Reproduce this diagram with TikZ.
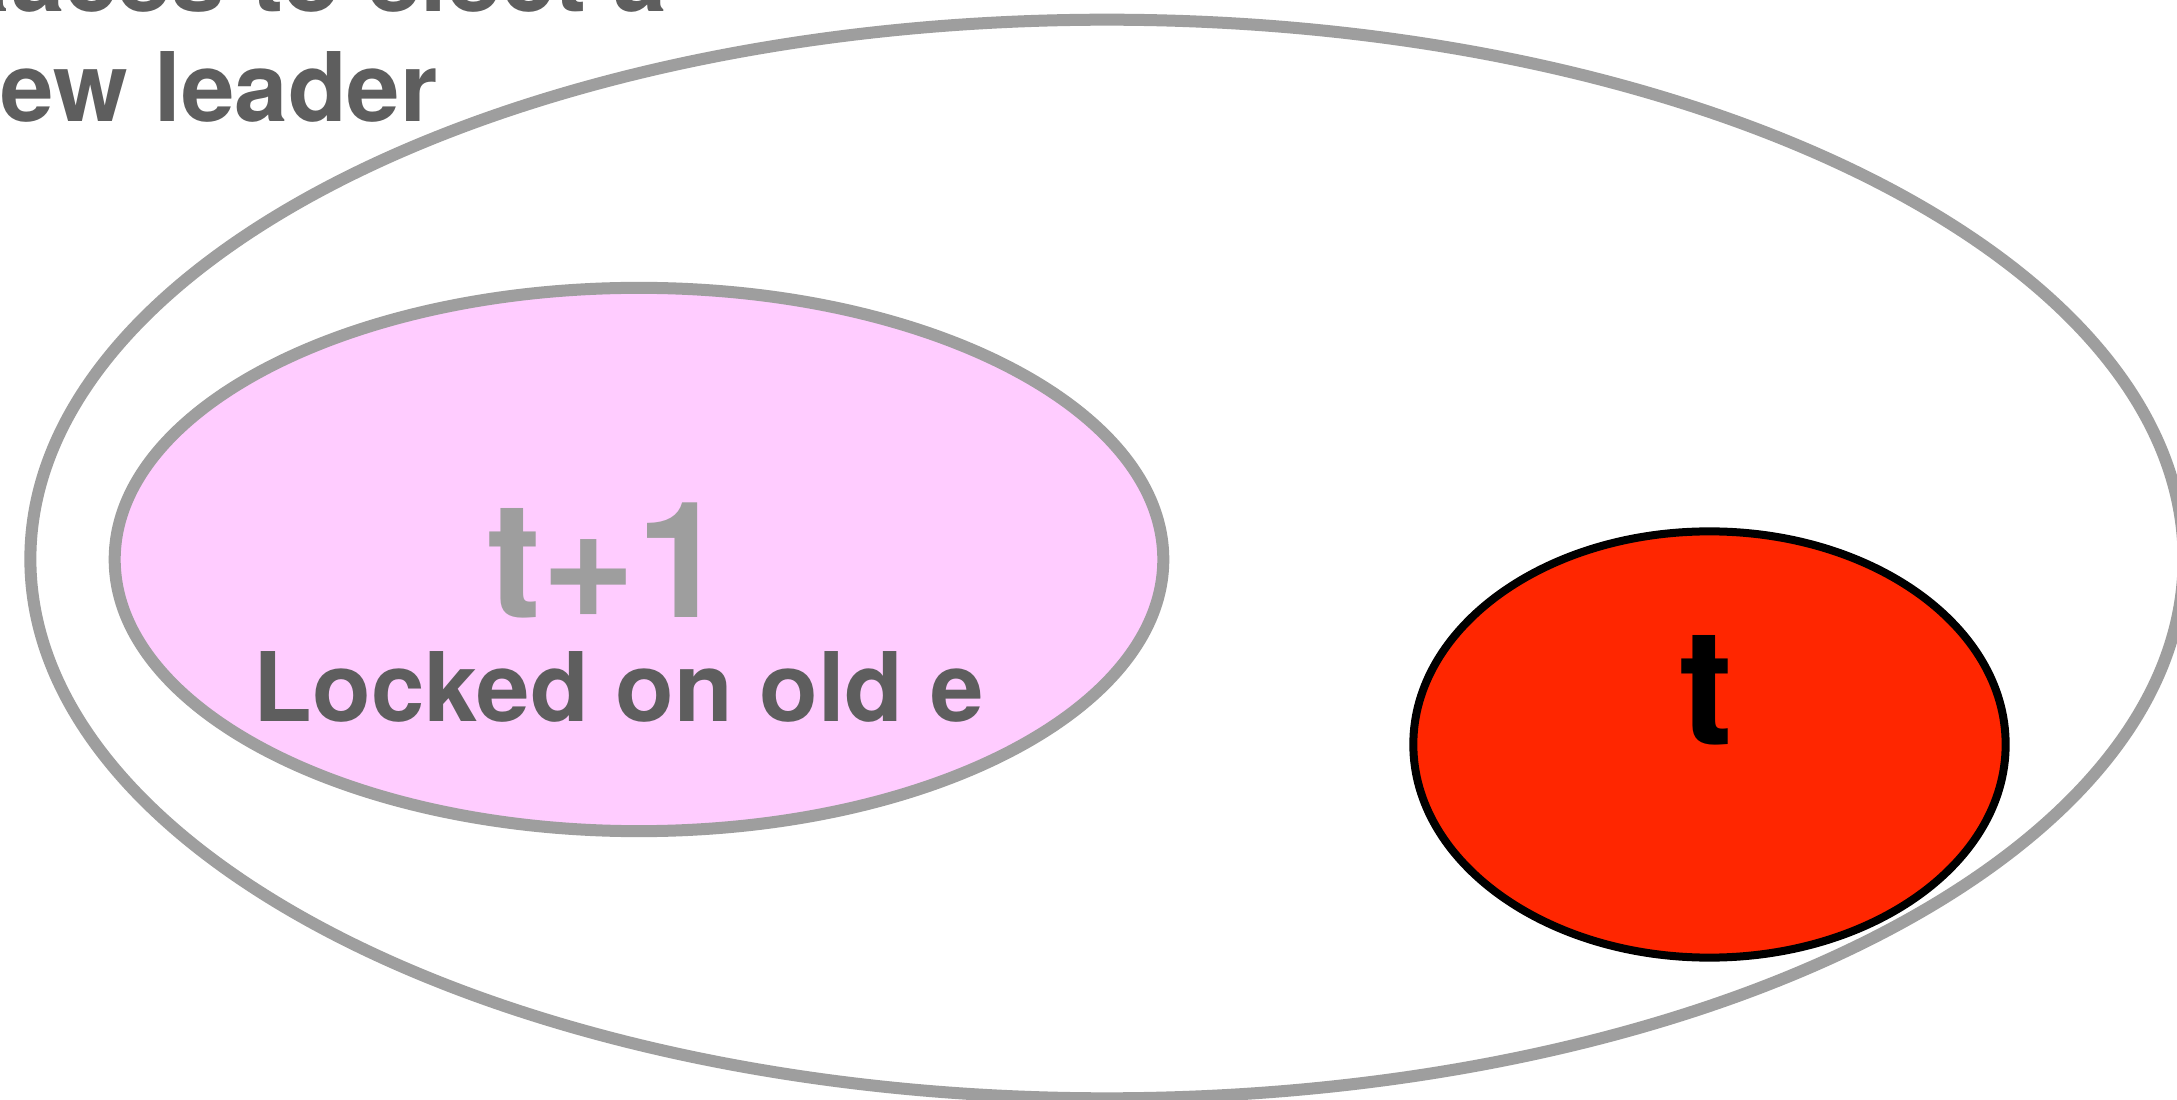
\documentclass[tikz,border=0pt]{standalone}
\usepackage{fontspec}
\setmainfont{TeX Gyre Heros}
\usetikzlibrary{shapes.geometric}
\definecolor{ringgray}{HTML}{9E9E9E}
\definecolor{labelgray}{HTML}{5E5E5E}
\definecolor{lockpink}{HTML}{FFCCFF}
\definecolor{termred}{HTML}{FF2600}
\tikzset{
  ring/.style={ellipse, draw=ringgray, line width=0.12cm, inner sep=0pt},
  bigtext/.style={font=\fontsize{46pt}{50pt}\selectfont\bfseries, inner sep=0pt},
  smalltext/.style={font=\fontsize{27.3pt}{31pt}\selectfont\bfseries, text=labelgray, inner sep=0pt},
}
\begin{document}
\begin{tikzpicture}[x=0.01cm, y=0.01cm]
\useasboundingbox (0,0) rectangle (2177,1099);
\clip (0,0) rectangle (2177,1099);
\fill[white] (0,0) rectangle (2177,1099);

% heading, running off the top-left corner
\node[smalltext, anchor=base west] (head1) at (-59,1087) {Races to elect a};
\node[smalltext, anchor=base west] (head2) at (-59,977) {new leader};

% the whole cluster
\node[ring, minimum width=21.52cm, minimum height=10.78cm] (cluster) at (1107,540) {};

% servers locked on the old term
\node[ring, fill=lockpink, minimum width=10.48cm, minimum height=5.43cm] (locked) at (639,539.5) {};
\node[bigtext, text=ringgray, anchor=base] (next) at (607,481) {t+1};
\node[smalltext, anchor=base west] (lockedlbl) at (253,377) {Locked on old e};

% current term
\node[ellipse, draw=black, fill=termred, line width=0.08cm, inner sep=0pt,
      minimum width=5.92cm, minimum height=4.26cm] (current) at (1709.5,354.5) {};
\node[bigtext, text=black, anchor=base] (curlbl) at (1706,354) {t};
\end{tikzpicture}
\end{document}
